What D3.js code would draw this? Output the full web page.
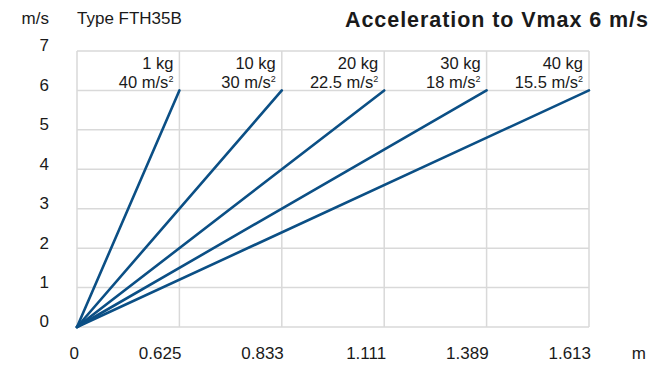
<!DOCTYPE html>
<html><head><meta charset="utf-8">
<script src="https://cdn.jsdelivr.net/npm/d3@7"></script>
<style>body{margin:0;background:#fff}svg{display:block}text{font-family:"Liberation Sans",Arial,sans-serif;fill:#1a1a1a}</style>
</head><body>
<svg id="c" width="653" height="365"></svg>
<script>
const xTicks = ["0","0.625","0.833","1.111","1.389","1.613"];
const yTicks = [0,1,2,3,4,5,6,7];
const masses = ["1 kg","10 kg","20 kg","30 kg","40 kg"];
const accels = ["40","30","22.5","18","15.5"];
const endX = ["0.625","0.833","1.111","1.389","1.613"];
const vmax = 6;

const svg = d3.select("#c");
const x = d3.scalePoint().domain(xTicks).range([77,589]);
const y = d3.scaleLinear().domain([0,7]).range([327,51]);

// grid
svg.append("g").selectAll("line").data(yTicks).join("line")
  .attr("x1",77).attr("x2",589).attr("y1",d=>y(d)).attr("y2",d=>y(d))
  .attr("stroke","#d9d9d9").attr("stroke-width",1.5);
svg.append("g").selectAll("line").data(xTicks).join("line")
  .attr("x1",d=>x(d)).attr("x2",d=>x(d)).attr("y1",y(0)).attr("y2",y(7))
  .attr("stroke","#d9d9d9").attr("stroke-width",1.5);

// y labels
svg.append("g").selectAll("text").data(yTicks).join("text")
  .attr("x",49).attr("y",d=>y(d)-4).attr("text-anchor","end").attr("dominant-baseline","middle")
  .attr("font-size",17).text(d=>d);
// x labels
svg.append("g").selectAll("text").data(xTicks).join("text")
  .attr("x",d=>x(d)+2).attr("y",355).attr("text-anchor","end").attr("dominant-baseline","middle")
  .attr("font-size",17).text(d=>d);

svg.append("text").attr("x",49).attr("y",20).attr("text-anchor","end").attr("dominant-baseline","middle").attr("font-size",17).text("m/s");
svg.append("text").attr("x",77).attr("y",20).attr("dominant-baseline","middle").attr("font-size",17).text("Type FTH35B");
svg.append("text").attr("x",646).attr("y",355).attr("text-anchor","end").attr("dominant-baseline","middle").attr("font-size",17).text("m");
svg.append("text").attr("x",345).attr("y",21).attr("dominant-baseline","middle").attr("font-size",21.5).attr("font-weight","bold").attr("fill","#000")
  .attr("textLength",303).attr("lengthAdjust","spacing").text("Acceleration to Vmax 6 m/s");

// lines
svg.append("g").selectAll("line").data(endX).join("line")
  .attr("x1",x("0")).attr("y1",y(0)).attr("x2",d=>x(d)).attr("y2",y(vmax))
  .attr("stroke","#0b4f85").attr("stroke-width",2.6).attr("stroke-linecap","round");

// labels
const lab = svg.append("g").selectAll("g").data(d3.range(masses.length)).join("g");
lab.append("text").attr("x",i=>x(endX[i])-6).attr("y",69).attr("text-anchor","end").attr("font-size",16.5).text(i=>masses[i]);
const t2 = lab.append("text").attr("x",i=>x(endX[i])-6).attr("y",88).attr("text-anchor","end").attr("font-size",16.5);
t2.append("tspan").text(i=>accels[i]+" m/s");
t2.append("tspan").attr("font-size",9).attr("dy",-6).text("2");
</script>
</body></html>
